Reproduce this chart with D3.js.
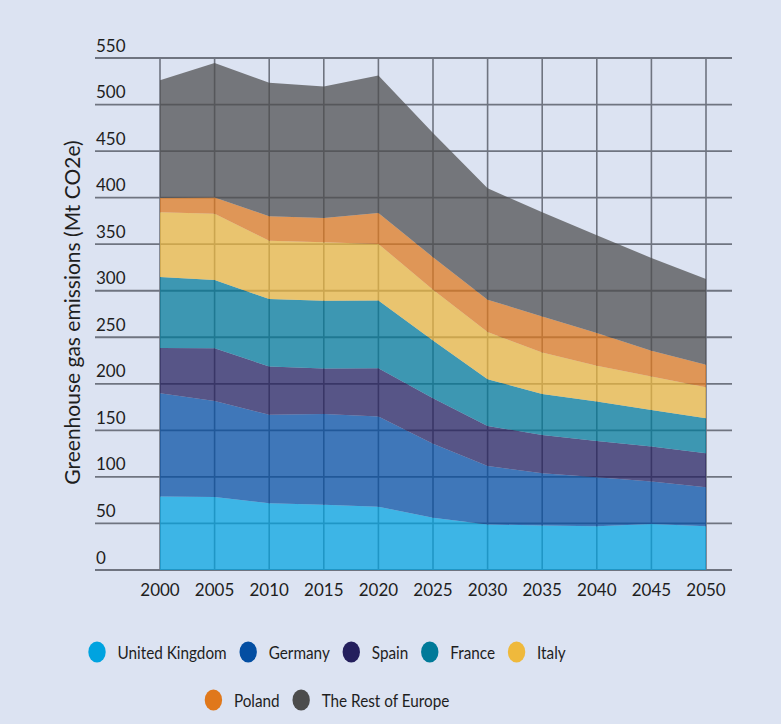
<!DOCTYPE html>
<html>
<head>
<meta charset="utf-8">
<script src="https://cdn.jsdelivr.net/npm/d3@7"></script>
<style>
  html, body { margin: 0; padding: 0; background: #dce3f2; }
  svg { display: block; font-family: Lato, "Noto Sans", sans-serif; }
</style>
</head>
<body>
<svg id="chart" width="781" height="724"></svg>
<script>
const years = [2000, 2005, 2010, 2015, 2020, 2025, 2030, 2035, 2040, 2045, 2050];
const seriesNames = ["United Kingdom", "Germany", "Spain", "France", "Italy", "Poland", "The Rest of Europe"];
const seriesColors = ["#00a3e0", "#034ea2", "#241f5d", "#007a99", "#efb93c", "#e0781b", "#4c4c4c"];
const unitedKingdom = [79, 78.5, 71.7, 70, 68, 56, 49, 47.7, 47, 49.5, 47];
const germany = [111, 103, 95, 97.7, 97, 79.5, 62.8, 56.3, 52.7, 45.5, 42];
const spain = [48.4, 56.7, 51.9, 48.8, 51.6, 49.1, 43, 41, 39, 37.6, 36.4];
const france = [76.3, 73.4, 72.4, 72.8, 72.8, 62, 50.2, 44, 42.3, 39.4, 37.6];
const italy = [69.5, 71, 62.8, 62.7, 60.9, 54.4, 50.6, 44.7, 38.4, 35.9, 33.4];
const poland = [15.5, 17.6, 26.1, 26.1, 33.3, 35, 34.7, 38.7, 35.1, 27.6, 24];
const restOfEurope = [126.5, 144.4, 143.4, 141.3, 147.7, 133.5, 119.7, 111.8, 105, 99.7, 92.2];
const yTicks = [0, 50, 100, 150, 200, 250, 300, 350, 400, 450, 500, 550];
const yTitle = "Greenhouse gas emissions (Mt CO2e)";

const seriesValues = [unitedKingdom, germany, spain, france, italy, poland, restOfEurope];
const table = years.map((yr, i) => {
  const row = { year: yr };
  seriesNames.forEach((n, s) => row[n] = seriesValues[s][i]);
  return row;
});

const svg = d3.select("#chart");
const x = d3.scaleLinear().domain([2000, 2050]).range([160, 706]);
const y = d3.scaleLinear().domain([0, 550]).range([570, 58]);
const gridLeft = 95, gridRight = 732;
const gridColor = "#6f7480";

// gridlines (under translucent areas)
const grid = svg.append("g");
grid.selectAll("line.h").data(yTicks).join("line")
  .attr("x1", gridLeft).attr("x2", gridRight)
  .attr("y1", d => y(d)).attr("y2", d => y(d))
  .attr("stroke", gridColor).attr("stroke-width", 1.8);
grid.selectAll("line.v").data(years).join("line")
  .attr("x1", d => x(d)).attr("x2", d => x(d))
  .attr("y1", y(550)).attr("y2", y(0))
  .attr("stroke", gridColor).attr("stroke-width", 1.6);

// stacked areas
const stack = d3.stack().keys(seriesNames);
const layers = stack(table);
const area = d3.area()
  .x(d => x(d.data.year))
  .y0(d => y(d[0]))
  .y1(d => y(d[1]));
svg.append("g").selectAll("path").data(layers).join("path")
  .attr("d", area)
  .attr("fill", (d, i) => seriesColors[i])
  .attr("fill-opacity", 0.72);

// y tick labels
svg.append("g").selectAll("text").data(yTicks).join("text")
  .attr("x", 96).attr("y", d => y(d) - 6.5)
  .attr("font-size", 17).attr("fill", "#1e1e1e")
  .text(d => d);

// x tick labels
svg.append("g").selectAll("text").data(years).join("text")
  .attr("x", d => x(d)).attr("y", 596)
  .attr("text-anchor", "middle")
  .attr("font-size", 17).attr("fill", "#1e1e1e")
  .text(d => d);

// y title
svg.append("text")
  .attr("transform", "translate(80,312.5) rotate(-90)")
  .attr("text-anchor", "middle")
  .attr("font-size", 21).attr("fill", "#1e1e1e")
  .text(yTitle);

// legend (text horizontally condensed to mimic the narrow face)
const condense = 0.85;
const legendRows = [[0, 1, 2, 3, 4], [5, 6]];
const legendY = [652, 700];
const legendCenter = 327;
const legend = svg.append("g");
legendRows.forEach((row, r) => {
  const g = legend.append("g");
  let cx = 0;
  row.forEach((si, k) => {
    g.append("ellipse").attr("cx", cx).attr("cy", legendY[r])
      .attr("rx", 8.7).attr("ry", 10.5).attr("fill", seriesColors[si]);
    const tx = cx + 20.5;
    const t = g.append("text")
      .attr("transform", `translate(${tx},${legendY[r] + 6.5}) scale(${condense},1)`)
      .attr("font-size", 18).attr("fill", "#1e1e1e").text(seriesNames[si]);
    const w = t.node().getComputedTextLength() * condense;
    cx = tx + w + (k < row.length - 1 ? 21.5 : 0);
  });
  const left = -8.7, right = cx;
  const shift = legendCenter - (left + right) / 2;
  g.attr("transform", `translate(${shift},0)`);
});
</script>
</body>
</html>
